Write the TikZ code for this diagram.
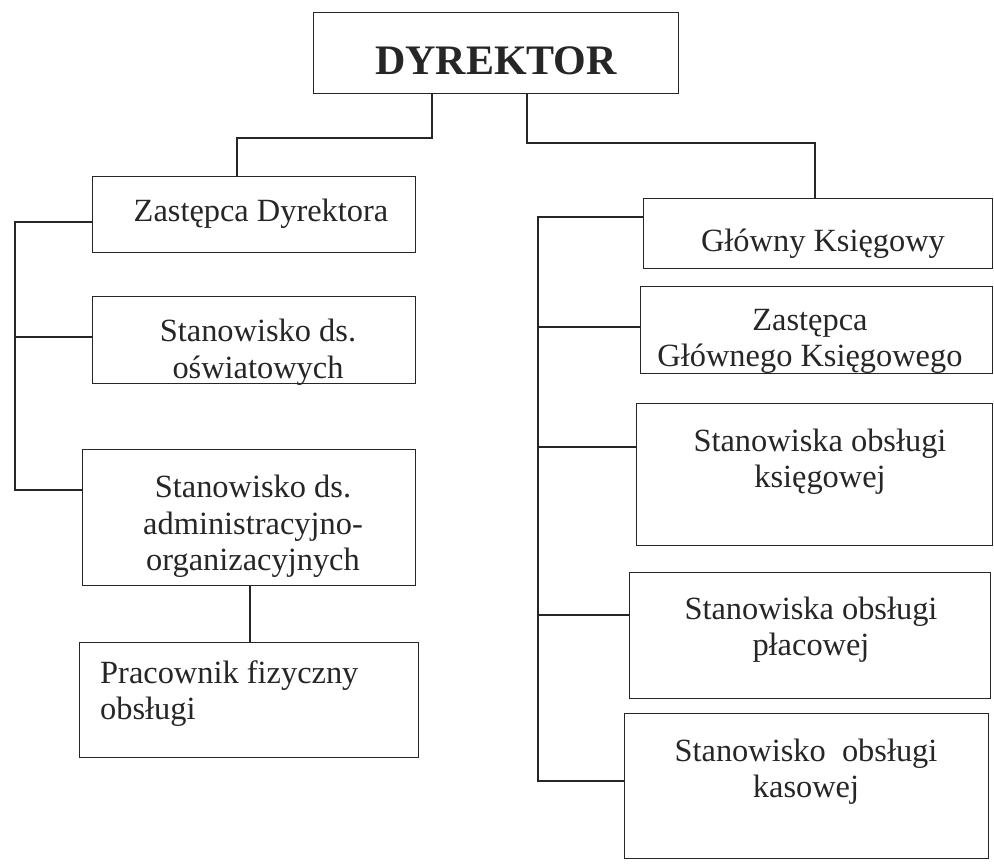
\documentclass[tikz,border=0pt]{standalone}
\usepackage{fontspec}
\setmainfont{Liberation Serif}
\begin{document}
\begin{tikzpicture}[x=1pt,y=-1pt,
  box/.style={draw=black!85, line width=1.4pt, inner sep=0pt, anchor=north west},
  lbl/.style={inner sep=0pt, align=center, font=\fontsize{32.4}{36.5}\selectfont, text=black!85},
  conn/.style={draw=black!85, line width=1.4pt}]
\useasboundingbox (0,0) rectangle (994,866);
\fill[white] (0,0) rectangle (994,866);
% boxes
\node[box, minimum width=365pt, minimum height=81pt] (dyr) at (313,12) {};
\node[box, minimum width=323pt, minimum height=76pt] (zd) at (92,176) {};
\node[box, minimum width=323pt, minimum height=87pt] (osw) at (92,296) {};
\node[box, minimum width=333pt, minimum height=136pt] (adm) at (82,449) {};
\node[box, minimum width=339pt, minimum height=115pt] (prac) at (79,642) {};
\node[box, minimum width=349pt, minimum height=70pt] (gk) at (643,198) {};
\node[box, minimum width=352pt, minimum height=87pt] (zgk) at (640,286) {};
\node[box, minimum width=356pt, minimum height=142pt] (ksg) at (636,403) {};
\node[box, minimum width=361pt, minimum height=126pt] (plc) at (629,572) {};
\node[box, minimum width=364pt, minimum height=145pt] (kas) at (624,713) {};
% texts
\node[lbl, anchor=base, font=\fontsize{42}{48}\selectfont\bfseries] (tdyr) at (496,75) {DYREKTOR};
\node[lbl, anchor=base] (tzd) at (261,222) {Zastępca Dyrektora};
\node[lbl] (tosw) at (258,352.5) {Stanowisko ds.\\oświatowych};
\node[lbl] (tadm) at (253,526.5) {Stanowisko ds.\\administracyjno-\\organizacyjnych};
\node[lbl, anchor=west, align=left] (tprac) at (100,693.5) {Pracownik fizyczny\\obsługi};
\node[lbl, anchor=base] (tgk) at (823,252) {Główny Księgowy};
\node[lbl] (tzgk) at (810,341.5) {Zastępca\\Głównego Księgowego};
\node[lbl] (tksg) at (820,462) {Stanowiska obsługi\\księgowej};
\node[lbl] (tplc) at (811,629.5) {Stanowiska obsługi\\płacowej};
\node[lbl] (tkas) at (806,771.5) {Stanowisko\ \ obsługi\\kasowej};
% top connectors
\coordinate (dl) at (432,138);
\coordinate (zdx) at (237,0);
\coordinate (dr) at (527,143);
\coordinate (gkx) at (815,0);
\draw[conn] (dl |- dyr.south) -- (dl) -| (zdx |- zd.north);
\draw[conn] (dr |- dyr.south) -- (dr) -| (gkx |- gk.north);
% left bus
\coordinate (l1) at (15,222);
\coordinate (l2) at (15,337);
\coordinate (l3) at (15,490);
\draw[conn] (zd.west |- l1) -- (l1) -- (l3) -- (adm.west |- l3);
\draw[conn] (l2) -- (osw.west |- l2);
\coordinate (ax) at (250,0);
\draw[conn] (ax |- adm.south) -- (ax |- prac.north);
% right bus
\coordinate (r1) at (538,217);
\coordinate (r2) at (538,327);
\coordinate (r3) at (538,447);
\coordinate (r4) at (538,615);
\coordinate (r5) at (538,781);
\draw[conn] (gk.west |- r1) -- (r1) -- (r5) -- (kas.west |- r5);
\draw[conn] (r2) -- (zgk.west |- r2);
\draw[conn] (r3) -- (ksg.west |- r3);
\draw[conn] (r4) -- (plc.west |- r4);
\end{tikzpicture}
\end{document}
